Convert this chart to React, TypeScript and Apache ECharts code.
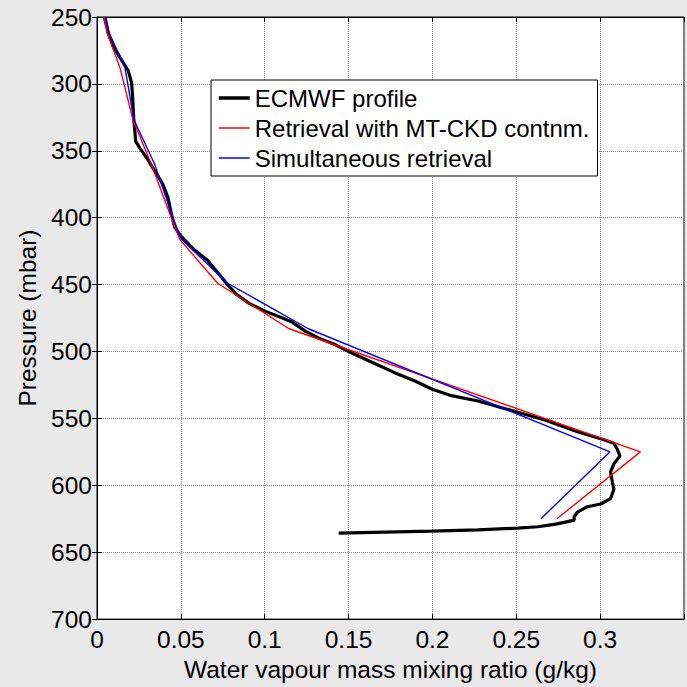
import React, { useEffect, useRef } from "react";
import * as echarts from "echarts";

// ECMWF profile (x: g/kg, p: mbar)
const ecmwfX = [0.0044, 0.0067, 0.0097, 0.0146, 0.0186, 0.0206, 0.0212, 0.0219, 0.0231, 0.0255, 0.0295, 0.0344, 0.0393, 0.0423, 0.0443, 0.0463, 0.0502, 0.0571, 0.066, 0.0719, 0.0779, 0.0829, 0.0907, 0.1006, 0.1105, 0.1164, 0.1244, 0.1323, 0.1422, 0.1501, 0.1639, 0.1778, 0.1896, 0.1995, 0.2113, 0.2272, 0.2469, 0.2667, 0.2865, 0.3023, 0.3082, 0.3102, 0.3118, 0.3082, 0.3062, 0.3072, 0.3082, 0.3062, 0.3003, 0.2924, 0.2865, 0.2845, 0.2845, 0.2786, 0.2727, 0.2628, 0.2509, 0.2272, 0.1995, 0.1441];
const ecmwfP = [250, 262, 272, 282, 290, 299, 309, 326, 343, 348, 355, 365, 375, 385, 397, 407, 414, 423, 432, 441, 450, 457, 464, 470, 475, 478, 485, 490, 495, 500, 508, 516, 522, 528, 533, 537, 544, 551, 560, 566, 568.5, 573, 578, 584, 590, 597, 603, 610, 614, 616, 620, 623.5, 626, 627.7, 629.2, 631, 632, 633.3, 634.2, 635.8];

// Retrieval levels (mbar)
const retrP = [250, 262, 287.5, 327, 360, 400, 416, 449, 483, 575, 625];
// Retrieval with MT-CKD continuum
const mtckdX = [0.0042, 0.0061, 0.0136, 0.0215, 0.0324, 0.0443, 0.0492, 0.0719, 0.1145, 0.324, 0.2742];
// Simultaneous retrieval
const simulX = [0.0053, 0.0073, 0.0166, 0.0221, 0.0344, 0.0453, 0.0502, 0.0779, 0.126, 0.3059, 0.2647];

const xTicks = { min: 0, max: 0.35, interval: 0.05 };
const yTicks = { min: 250, max: 700, interval: 50 };

const seriesNames = ["ECMWF profile", "Retrieval with MT-CKD contnm.", "Simultaneous retrieval"];

const FONT = "'Liberation Sans', Arial, sans-serif";

export default function App() {
  const ref = useRef<HTMLDivElement>(null);
  useEffect(() => {
    if (!ref.current) return;
    const chart = echarts.init(ref.current, undefined, { renderer: "svg" });
    const pair = (xs: number[], ps: number[]) => xs.map((x, i) => [x, ps[i]]);
    const fmtX = (v: number) => (v > 0.345 ? "" : String(+v.toFixed(2)));
    chart.setOption({
      animation: false,
      backgroundColor: "#e9e9e9",
      textStyle: { fontFamily: FONT },
      grid: {
        left: 97,
        top: 17,
        right: 1,
        bottom: 58,
        show: true,
        backgroundColor: "#ffffff",
        borderColor: "#000",
        borderWidth: 1,
      },
      legend: {
        left: 211,
        top: 80,
        orient: "vertical",
        data: [
          { name: seriesNames[0], lineStyle: { width: 3.5, color: "#000" } },
          { name: seriesNames[1], lineStyle: { width: 1.5, color: "#ff0000" } },
          { name: seriesNames[2], lineStyle: { width: 1.5, color: "#0000ff" } },
        ],
        itemWidth: 31,
        itemHeight: 14,
        itemGap: 6,
        padding: [6, 8, 6, 6],
        backgroundColor: "#ffffff",
        borderColor: "#000",
        borderWidth: 1,
        borderRadius: 0,
        itemStyle: { opacity: 0 },
        textStyle: { fontSize: 24, color: "#000", fontFamily: FONT },
      },
      xAxis: [
        {
          type: "value",
          position: "bottom",
          min: xTicks.min,
          max: xTicks.max,
          interval: xTicks.interval,
          name: "Water vapour mass mixing ratio (g/kg)",
          nameLocation: "middle",
          nameGap: 37,
          nameTextStyle: { fontSize: 24.5, color: "#000", fontFamily: FONT },
          axisLine: { show: true, lineStyle: { color: "#000", width: 1 } },
          axisTick: { show: true, inside: true, length: 5, lineStyle: { color: "#000" } },
          axisLabel: { fontSize: 24.5, color: "#000", margin: 8, formatter: fmtX, fontFamily: FONT },
          splitLine: { show: true, lineStyle: { color: "#8a8a8a", type: "dotted", width: 1 } },
        },
        {
          type: "value",
          position: "top",
          min: xTicks.min,
          max: xTicks.max,
          interval: xTicks.interval,
          axisLine: { show: true, lineStyle: { color: "#000", width: 1 } },
          axisTick: { show: true, inside: true, length: 5, lineStyle: { color: "#000" } },
          axisLabel: { show: false },
          splitLine: { show: false },
        },
      ],
      yAxis: [
        {
          type: "value",
          position: "left",
          inverse: true,
          min: yTicks.min,
          max: yTicks.max,
          interval: yTicks.interval,
          name: "Pressure (mbar)",
          nameLocation: "middle",
          nameGap: 52,
          nameTextStyle: { fontSize: 24.5, color: "#000", fontFamily: FONT },
          axisLine: { show: true, lineStyle: { color: "#000", width: 1 } },
          axisTick: { show: true, inside: true, length: 5, lineStyle: { color: "#000" } },
          axisLabel: { fontSize: 24.5, color: "#000", margin: 5, fontFamily: FONT },
          splitLine: { show: true, lineStyle: { color: "#8a8a8a", type: "dotted", width: 1 } },
        },
        {
          type: "value",
          position: "right",
          inverse: true,
          min: yTicks.min,
          max: yTicks.max,
          interval: yTicks.interval,
          axisLine: { show: true, lineStyle: { color: "#000", width: 1 } },
          axisTick: { show: true, inside: true, length: 5, lineStyle: { color: "#000" } },
          axisLabel: { show: false },
          splitLine: { show: false },
        },
      ],
      series: [
        {
          name: seriesNames[0],
          type: "line",
          data: pair(ecmwfX, ecmwfP),
          symbol: "none",
          lineStyle: { color: "#000", width: 3.2 },
          itemStyle: { color: "#000" },
          z: 3,
        },
        {
          name: seriesNames[1],
          type: "line",
          data: pair(mtckdX, retrP),
          symbol: "none",
          lineStyle: { color: "#ff0000", width: 1.4 },
          itemStyle: { color: "#ff0000" },
          z: 4,
        },
        {
          name: seriesNames[2],
          type: "line",
          data: pair(simulX, retrP),
          symbol: "none",
          lineStyle: { color: "#0000ff", width: 1.4 },
          itemStyle: { color: "#0000ff" },
          z: 5,
        },
      ],
    });
    return () => chart.dispose();
  }, []);
  return (
    <div
      ref={ref}
      style={{ position: "absolute", left: 0, top: 0, width: 687, height: 687 }}
    />
  );
}
